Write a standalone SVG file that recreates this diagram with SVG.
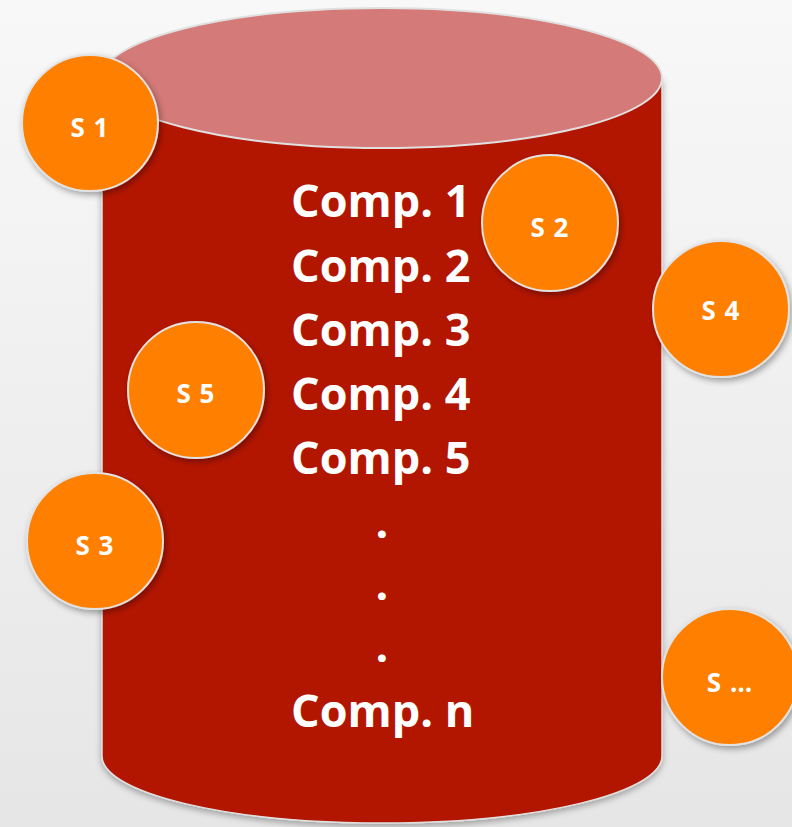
<svg xmlns="http://www.w3.org/2000/svg" width="792" height="827" viewBox="0 0 792 827">
<defs>
<linearGradient id="bg" x1="0" y1="0" x2="0" y2="1">
<stop offset="0" stop-color="#f8f8f8"/>
<stop offset="1" stop-color="#e6e6e6"/>
</linearGradient>
<filter id="sh" x="-20%" y="-20%" width="140%" height="140%">
<feDropShadow dx="2" dy="3" stdDeviation="3" flood-color="#000" flood-opacity="0.35"/>
</filter>
<filter id="csh" x="-10%" y="-10%" width="120%" height="120%">
<feDropShadow dx="0" dy="3" stdDeviation="3" flood-color="#000" flood-opacity="0.3"/>
</filter>
</defs>
<style>
.circ{fill:#FF7F00;stroke:#e2e2e2;stroke-width:2;filter:url(#sh)}
.sl{font-family:"Open Sans","Liberation Sans",sans-serif;font-weight:bold;font-size:26px;fill:#fff;text-anchor:middle;letter-spacing:1px}
.cl{font-family:"Open Sans","Liberation Sans",sans-serif;font-weight:bold;font-size:45px;fill:#fff}
</style>
<rect width="792" height="827" fill="url(#bg)"/>
<g id="cylinder">
<path d="M102,78 L102,756 A280,67 0 0 0 662,756 L662,78 Z" fill="#B31800" stroke="#e0e0e0" stroke-width="1.5" filter="url(#csh)"/>
<ellipse cx="382" cy="78" rx="280" ry="70" fill="#D47A78" stroke="#e0e0e0" stroke-width="2"/>
<text class="cl" x="291" y="217">Comp. 1</text>
<text class="cl" x="291" y="282">Comp. 2</text>
<text class="cl" x="291" y="346">Comp. 3</text>
<text class="cl" x="291" y="410">Comp. 4</text>
<text class="cl" x="291" y="474">Comp. 5</text>
<text class="cl" x="382" y="538" text-anchor="middle">.</text>
<text class="cl" x="382" y="600" text-anchor="middle">.</text>
<text class="cl" x="382" y="662" text-anchor="middle">.</text>
<text class="cl" x="291" y="727">Comp. n</text>
</g>
<g id="s1"><circle class="circ" cx="90" cy="123" r="68"/><text class="sl" x="90" y="137">S 1</text></g>
<g id="s2"><circle class="circ" cx="550" cy="223" r="68"/><text class="sl" x="550" y="237">S 2</text></g>
<g id="s4"><circle class="circ" cx="721" cy="309" r="68"/><text class="sl" x="721" y="320">S 4</text></g>
<g id="s5"><circle class="circ" cx="196" cy="390" r="68"/><text class="sl" x="196" y="403">S 5</text></g>
<g id="s3"><circle class="circ" cx="95" cy="541" r="68"/><text class="sl" x="95" y="555">S 3</text></g>
<g id="sn"><circle class="circ" cx="730" cy="677" r="68"/><text class="sl" x="730" y="692">S …</text></g>
</svg>
